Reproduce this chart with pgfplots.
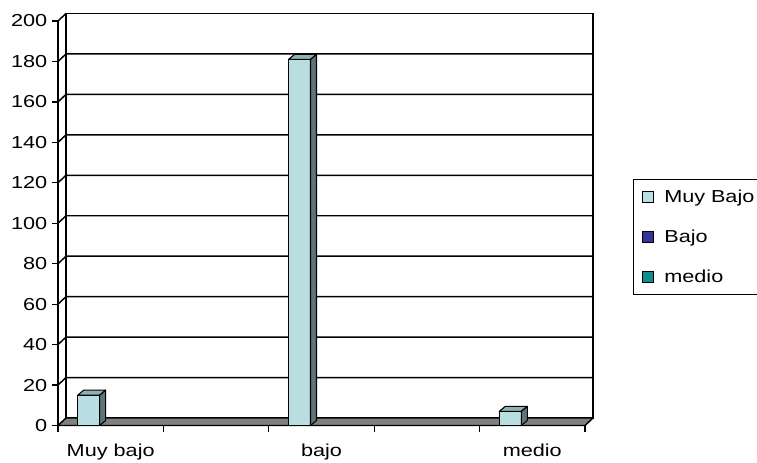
\documentclass[border=0pt]{standalone}
\usepackage{fontspec}
\setmainfont{Liberation Sans}[FakeStretch=1.25]
\usepackage{pgfplots}
\usepackage{pgfplotstable}
\pgfplotsset{compat=1.18}

\definecolor{muybajo}{RGB}{184,222,225}
\definecolor{muybajotop}{RGB}{140,178,180}
\definecolor{muybajoside}{RGB}{92,118,119}
\definecolor{bajo}{RGB}{51,51,153}
\definecolor{medio}{RGB}{16,140,140}
\definecolor{floorgray}{RGB}{128,128,128}

% Series "Muy Bajo": one value per category slot (0.5, 2.5, 4.5)
\pgfplotstableread{
x   v
0.5 15
2.5 181
4.5 7
}\muybajodata

% top and side faces of a column, drawn at the column's top-centre
\newcommand\yunitpt{1.516875pt}
\pgfdeclareplotmark{prism}{%
  \pgfmathsetlengthmacro{\prismh}{\barval*\yunitpt}%
  \pgfsetlinewidth{0.8pt}%
  \pgfsetstrokecolor{black}%
  \pgfsetroundjoin
  \pgfpathmoveto{\pgfqpoint{-24.75pt}{0pt}}%
  \pgfpathlineto{\pgfqpoint{-20.25pt}{3.75pt}}%
  \pgfpathlineto{\pgfqpoint{-3.75pt}{3.75pt}}%
  \pgfpathlineto{\pgfqpoint{-8.25pt}{0pt}}%
  \pgfpathclose
  \pgfsetfillcolor{muybajotop}%
  \pgfusepath{fill,stroke}%
  \pgfpathmoveto{\pgfqpoint{-8.25pt}{0pt}}%
  \pgfpathlineto{\pgfqpoint{-3.75pt}{3.75pt}}%
  \pgfpathlineto{\pgfpoint{-3.75pt}{3.75pt-\prismh}}%
  \pgfpathlineto{\pgfpoint{-8.25pt}{-\prismh}}%
  \pgfpathclose
  \pgfsetfillcolor{muybajoside}%
  \pgfusepath{fill,stroke}%
}

\pgfplotsset{
  sqlegend/.style={legend image code/.code={%
    \draw[##1, draw=black, line width=0.75pt] (0pt,-4pt) rectangle (8pt,4pt);}},
}

\begin{document}
\begin{tikzpicture}
\path[use as bounding box] (0,0) rectangle (567.75pt,346.5pt);
\begin{axis}[
  at={(43.5pt,27.375pt)}, anchor=south west,
  scale only axis, width=395.25pt, height=303.375pt,
  xmin=0, xmax=5, ymin=0, ymax=200,
  clip=false,
  axis lines*=left,
  axis line style={line width=1.2pt, -},
  ytick={0,20,...,200},
  xtick={0,1,2,3,4,5},
  x tick label as interval,
  xticklabels={Muy bajo,,bajo,,medio},
  tick align=outside,
  major tick length=4.5pt,
  tick style={black, line width=0.9pt},
  ticklabel style={font=\fontsize{13pt}{15pt}\selectfont},
  xticklabel style={yshift=-6pt},
  /pgf/number format/assume math mode=true,
  sqlegend,
  legend cell align=left,
  legend style={at={(1.092,0.610)}, anchor=north west,
    draw=black, line width=0.75pt,
    font=\fontsize{13pt}{15pt}\selectfont,
    nodes={text width=70pt},
    /tikz/every odd column/.style={column sep=6pt},
    row sep=15pt, inner xsep=6pt, inner ysep=6pt},
]
% back wall and its gridlines
\draw[line width=1.1pt] ([shift={(6pt,5.625pt)}]axis cs:0,0) rectangle ([shift={(6pt,5.625pt)}]axis cs:5,200);
\draw[line width=1.1pt] (axis cs:0,200) -- ++(6pt,5.625pt);
\pgfplotsinvokeforeach{20,40,...,180}{%
  \draw[line width=1.1pt] (axis cs:0,#1) -- ++(6pt,5.625pt) -- ([shift={(6pt,5.625pt)}]axis cs:5,#1);
}
% floor
\filldraw[fill=floorgray, draw=black, line width=1.1pt, line join=round]
  (axis cs:0,0) -- ([shift={(6pt,5.625pt)}]axis cs:0,0)
  -- ([shift={(6pt,5.625pt)}]axis cs:5,0) -- (axis cs:5,0) -- cycle;

\addplot[ybar, bar width=16.5pt, bar shift=-16.5pt, fill=muybajo, draw=black,
  line width=0.8pt, sqlegend] table[x=x, y=v] {\muybajodata};
\addlegendentry{Muy Bajo}
\addplot[scatter, only marks, mark=prism, forget plot,
  visualization depends on={\thisrow{v} \as \barval},
  scatter/@pre marker code/.code={}, scatter/@post marker code/.code={}]
  table[x=x, y=v] {\muybajodata};
\addlegendimage{fill=bajo}
\addlegendentry{Bajo}
\addlegendimage{fill=medio}
\addlegendentry{medio}
\end{axis}
\end{tikzpicture}
\end{document}
